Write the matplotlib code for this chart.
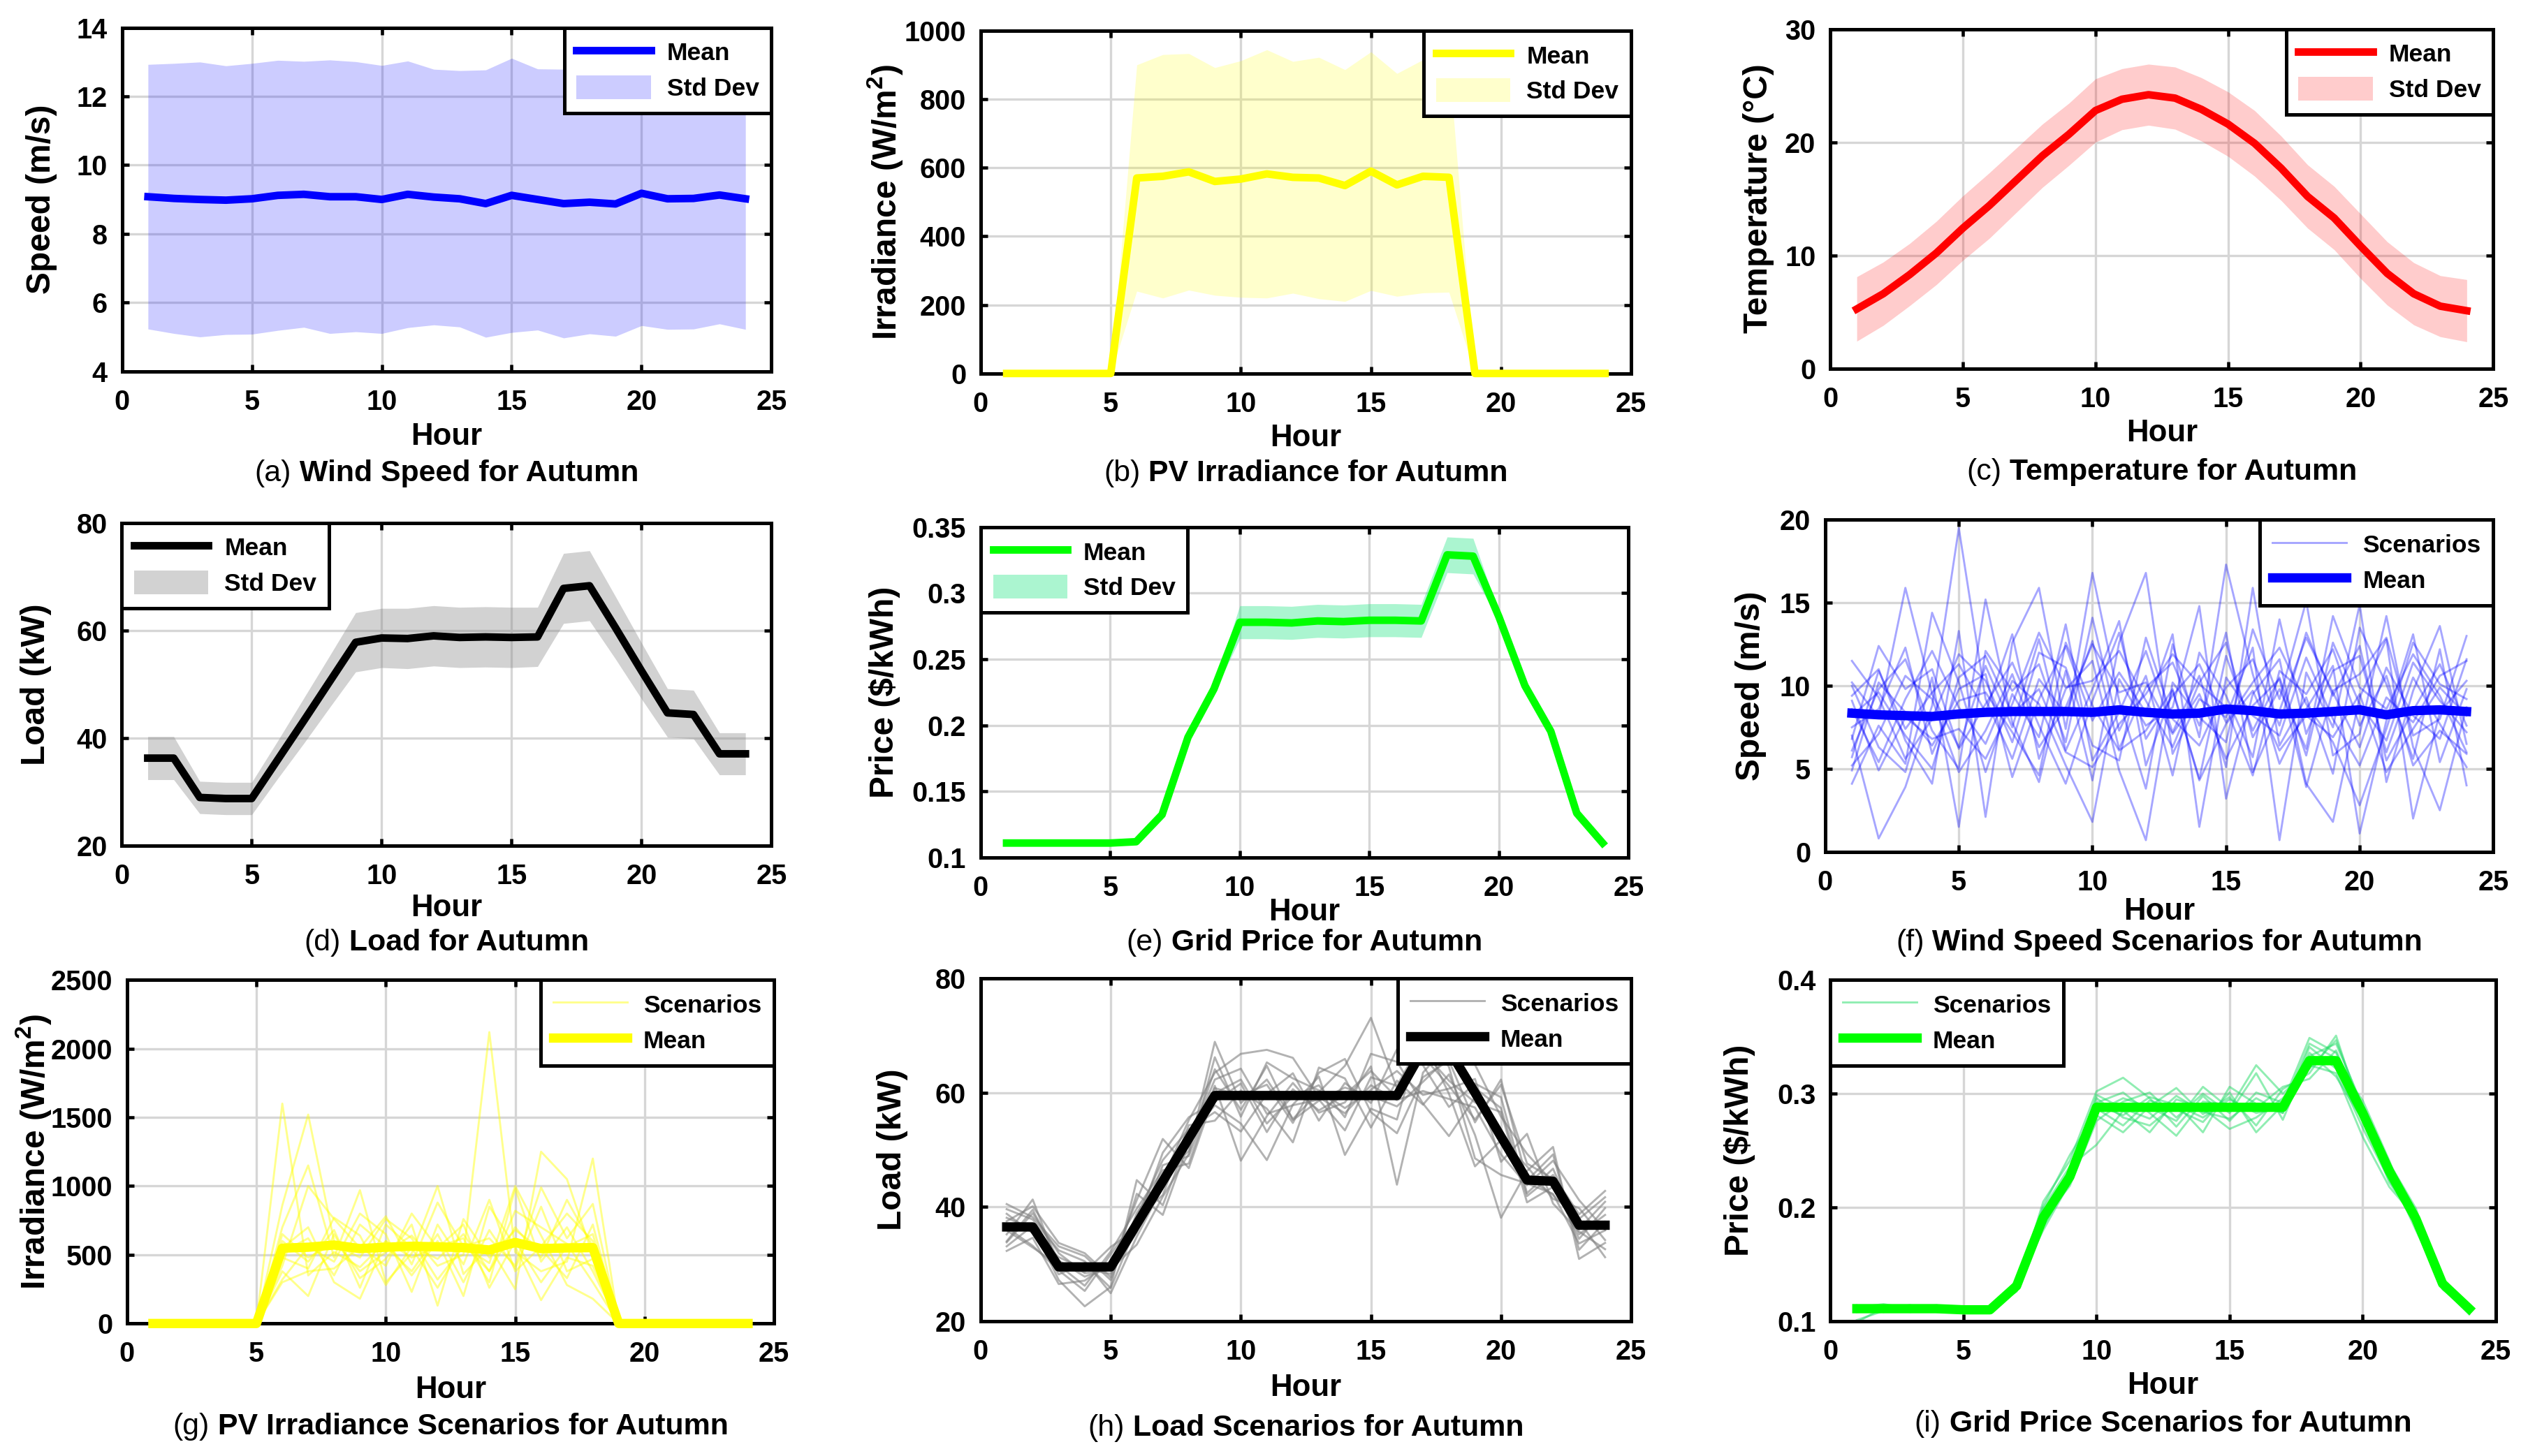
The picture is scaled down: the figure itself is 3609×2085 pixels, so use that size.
import matplotlib
matplotlib.use('Agg')
import matplotlib.pyplot as plt
from matplotlib.ticker import FuncFormatter

hours = list(range(1, 25))

# (a) wind speed statistics
wind_mean = [9.08, 9.03, 9.00, 8.98, 9.02, 9.12, 9.15, 9.08, 9.08, 9.00, 9.15, 9.07,
             9.02, 8.88, 9.12, 9.00, 8.88, 8.92, 8.87, 9.18, 9.02, 9.03, 9.13, 9.02]
wind_std = [3.85, 3.93, 4.00, 3.91, 3.94, 3.93, 3.87, 3.98, 3.93, 3.90, 3.88, 3.72,
            3.73, 3.89, 3.99, 3.80, 3.91, 3.83, 3.85, 3.85, 3.80, 3.80, 3.75, 3.80]

# (b) PV irradiance statistics
pv_mean = [0, 0, 0, 0, 0, 570, 575, 588, 560, 567, 582, 572,
           570, 548, 590, 550, 575, 572, 0, 0, 0, 0, 0, 0]
pv_std = [0, 0, 0, 0, 0, 330, 355, 345, 332, 345, 362, 338,
          352, 338, 348, 325, 340, 335, 0, 0, 0, 0, 0, 0]

# (c) temperature statistics
temp_mean = [5.25, 6.6, 8.3, 10.2, 12.4, 14.4, 16.6, 18.8, 20.7, 22.8, 23.8, 24.2,
             23.9, 22.9, 21.6, 19.9, 17.7, 15.2, 13.3, 10.8, 8.4, 6.6, 5.5, 5.1]
temp_std = [2.85, 2.8, 2.75, 2.8, 2.85, 2.9, 2.85, 2.8, 2.75, 2.8, 2.7, 2.7,
            2.75, 2.8, 2.85, 2.9, 2.85, 2.8, 2.8, 2.85, 2.8, 2.75, 2.7, 2.75]

# (d) load statistics
load_mean = [36.3, 36.3, 29.0, 28.8, 28.8, 36.0, 43.2, 50.5, 57.8, 58.6, 58.5, 59.0,
             58.7, 58.8, 58.7, 58.8, 67.8, 68.3, 60.5, 52.5, 44.7, 44.4, 37.1, 37.1]
load_std = [4.0, 4.0, 3.0, 3.0, 3.0, 3.5, 4.2, 4.8, 5.5, 5.5, 5.6, 5.6,
            5.6, 5.6, 5.6, 5.5, 6.5, 6.5, 5.8, 5.2, 4.5, 4.5, 3.9, 3.9]

# (e) grid price statistics
price_mean = [0.111, 0.111, 0.111, 0.111, 0.111, 0.112, 0.1325, 0.191, 0.2275, 0.278, 0.278, 0.2775,
              0.279, 0.2785, 0.2795, 0.2795, 0.279, 0.329, 0.328, 0.282, 0.230, 0.1955, 0.1336, 0.111]
price_std = [0.002, 0.002, 0.002, 0.002, 0.002, 0.002, 0.003, 0.003, 0.003, 0.0125, 0.0125, 0.0125,
             0.0125, 0.0125, 0.0125, 0.0125, 0.0125, 0.0135, 0.0135, 0.003, 0.003, 0.003, 0.002, 0.002]

# (f) wind speed scenarios
wind_scen = [
    [10.2, 8.1, 15.9, 9.5, 6.3, 11.2, 7.5, 12.8, 6.1, 9.8, 13.9, 5.2, 9.7, 4.4, 11.8, 7.3, 10.5, 5.8, 12.6, 8.9, 6.7, 11.4, 9.1, 7.2],
    [4.1, 7.6, 5.3, 14.4, 10.2, 4.8, 9.5, 6.9, 13.7, 5.5, 8.4, 12.1, 7.2, 10.6, 5.1, 15.9, 6.4, 9.3, 4.7, 13.5, 10.1, 5.6, 12.2, 4.0],
    [7.0, 0.8, 3.9, 8.8, 19.5, 9.2, 5.6, 10.4, 8.3, 12.7, 6.2, 9.9, 11.4, 7.6, 13.2, 4.8, 8.5, 12.9, 9.6, 6.3, 11.1, 8.2, 6.8, 11.6],
    [9.4, 11.0, 6.7, 4.1, 13.3, 2.1, 12.6, 15.9, 7.4, 16.8, 9.1, 3.8, 12.5, 6.9, 17.3, 10.7, 5.3, 8.6, 11.2, 1.1, 7.9, 13.1, 5.4, 9.8],
    [6.1, 9.8, 11.6, 7.3, 5.0, 15.2, 7.8, 4.2, 10.9, 4.3, 12.6, 16.8, 5.9, 9.2, 8.1, 12.3, 0.7, 10.8, 7.5, 14.9, 4.2, 9.7, 13.6, 6.5],
    [8.6, 5.4, 9.2, 12.1, 8.7, 6.5, 10.3, 8.9, 5.2, 1.8, 10.4, 7.6, 8.7, 14.8, 3.2, 9.5, 11.6, 4.1, 1.8, 9.3, 12.8, 2.0, 8.4, 10.3],
    [5.7, 10.9, 7.4, 9.6, 11.3, 8.4, 13.1, 5.6, 9.8, 11.5, 4.9, 0.7, 10.2, 8.1, 6.6, 13.4, 9.2, 15.1, 5.8, 7.1, 14.2, 6.3, 2.5, 8.7],
    [10.0, 6.3, 4.8, 10.5, 1.5, 12.1, 9.7, 11.3, 6.6, 14.1, 7.3, 10.6, 4.6, 12.0, 9.4, 5.7, 14.0, 7.1, 10.9, 11.8, 6.0, 10.5, 7.7, 5.1],
    [7.5, 8.6, 12.3, 5.9, 9.8, 10.7, 4.5, 9.2, 12.4, 7.9, 10.8, 8.4, 13.1, 1.5, 10.5, 8.2, 7.0, 11.7, 8.0, 5.2, 9.3, 7.8, 10.6, 11.5],
    [9.1, 4.9, 8.1, 6.8, 7.4, 5.6, 8.9, 13.2, 9.9, 10.3, 12.1, 9.1, 6.3, 10.2, 12.6, 6.9, 9.8, 6.2, 14.2, 9.9, 8.6, 11.9, 9.4, 6.0],
    [6.8, 12.4, 9.8, 11.0, 6.2, 8.9, 11.4, 7.6, 4.1, 9.1, 13.2, 6.8, 9.4, 11.3, 7.8, 10.2, 12.3, 8.9, 6.6, 2.8, 7.4, 12.6, 10.1, 9.2],
    [11.5, 9.3, 5.6, 8.0, 11.9, 10.3, 6.6, 12.0, 11.1, 6.4, 5.5, 12.9, 8.0, 6.4, 9.9, 11.6, 7.6, 13.2, 9.4, 12.4, 5.5, 8.5, 11.3, 7.6],
    [5.2, 7.1, 10.6, 9.2, 4.8, 7.3, 10.7, 6.3, 8.7, 12.5, 9.6, 10.2, 7.1, 9.5, 5.6, 8.8, 10.4, 3.9, 9.7, 10.7, 12.9, 7.0, 8.0, 13.0],
    [8.2, 9.6, 7.0, 5.0, 10.5, 11.8, 8.3, 9.8, 6.0, 5.1, 7.7, 9.5, 11.9, 10.1, 8.7, 4.6, 10.9, 9.5, 12.2, 7.6, 10.6, 5.2, 7.3, 5.9],
    [4.9, 10.2, 8.4, 6.4, 9.1, 9.6, 7.2, 4.6, 12.6, 8.8, 6.1, 7.3, 9.8, 4.3, 7.7, 9.7, 6.1, 8.2, 6.9, 9.5, 4.8, 7.4, 9.9, 8.2],
]
wind_scen_mean = [8.35, 8.25, 8.2, 8.15, 8.3, 8.4, 8.45, 8.45, 8.45, 8.4, 8.55, 8.4,
                  8.3, 8.35, 8.6, 8.5, 8.3, 8.35, 8.45, 8.55, 8.25, 8.5, 8.55, 8.45]

# (g) PV irradiance scenarios
pv_scen = [
    [0, 0, 0, 0, 0, 1600, 350, 520, 410, 600, 480, 560, 620, 300, 980, 450, 700, 380, 0, 0, 0, 0, 0, 0],
    [0, 0, 0, 0, 0, 860, 1520, 600, 380, 520, 640, 420, 500, 2120, 520, 380, 450, 1200, 0, 0, 0, 0, 0, 0],
    [0, 0, 0, 0, 0, 700, 1150, 480, 970, 300, 510, 1000, 360, 560, 250, 1250, 1050, 500, 0, 0, 0, 0, 0, 0],
    [0, 0, 0, 0, 0, 420, 1000, 760, 550, 780, 430, 880, 560, 620, 420, 990, 620, 870, 0, 0, 0, 0, 0, 0],
    [0, 0, 0, 0, 0, 380, 200, 650, 330, 470, 720, 130, 760, 480, 680, 540, 330, 720, 0, 0, 0, 0, 0, 0],
    [0, 0, 0, 0, 0, 550, 700, 300, 180, 600, 350, 600, 200, 850, 560, 170, 480, 420, 0, 0, 0, 0, 0, 0],
    [0, 0, 0, 0, 0, 480, 400, 770, 640, 280, 560, 470, 650, 380, 820, 700, 580, 300, 0, 0, 0, 0, 0, 0],
    [0, 0, 0, 0, 0, 320, 560, 450, 800, 650, 230, 720, 430, 900, 380, 560, 800, 600, 0, 0, 0, 0, 0, 0],
    [0, 0, 0, 0, 0, 650, 480, 580, 480, 760, 620, 320, 560, 440, 1000, 640, 280, 180, 0, 0, 0, 0, 0, 0],
    [0, 0, 0, 0, 0, 300, 380, 400, 560, 420, 800, 550, 720, 260, 600, 300, 560, 650, 0, 0, 0, 0, 0, 0],
    [0, 0, 0, 0, 0, 520, 620, 350, 720, 560, 380, 650, 300, 680, 400, 850, 380, 470, 0, 0, 0, 0, 0, 0],
    [0, 0, 0, 0, 0, 600, 450, 680, 260, 720, 550, 260, 580, 380, 700, 480, 900, 560, 0, 0, 0, 0, 0, 0],
]
pv_scen_mean = [0, 0, 0, 0, 0, 548, 555, 571, 545, 555, 562, 558,
                552, 535, 590, 545, 550, 552, 0, 0, 0, 0, 0, 0]

# (h) load scenarios
load_scen = [
    [40.5, 38.2, 33.1, 31.4, 27.2, 38.9, 45.6, 49.8, 68.9, 58.2, 62.3, 55.4, 60.1, 64.7, 73.1, 60.8, 66.4, 61.2, 55.3, 61.4, 47.6, 44.9, 35.2, 38.6],
    [35.2, 41.3, 29.4, 28.6, 33.0, 36.2, 44.8, 55.2, 63.5, 66.8, 67.5, 66.1, 59.2, 56.4, 61.3, 58.7, 60.3, 58.9, 57.4, 49.2, 43.8, 48.1, 41.2, 36.0],
    [33.1, 36.7, 27.2, 22.6, 26.0, 44.7, 40.3, 52.1, 57.8, 54.6, 48.2, 57.9, 62.8, 49.1, 57.2, 55.3, 71.2, 64.5, 48.5, 45.6, 44.1, 42.3, 33.6, 35.9],
    [38.8, 35.4, 31.2, 29.1, 28.3, 35.6, 47.3, 48.9, 61.2, 48.1, 55.9, 61.7, 56.5, 58.3, 64.6, 43.9, 63.5, 68.7, 60.8, 57.3, 41.9, 45.6, 38.7, 42.8],
    [36.4, 33.2, 28.9, 25.3, 31.7, 37.9, 42.1, 54.3, 55.1, 60.4, 57.2, 51.3, 64.4, 62.5, 53.9, 62.1, 57.9, 63.2, 52.6, 38.1, 46.3, 50.5, 30.9, 33.7],
    [34.0, 39.5, 30.6, 27.8, 29.6, 41.2, 51.9, 46.8, 59.9, 62.3, 54.6, 59.4, 61.3, 55.7, 66.8, 65.4, 58.1, 52.4, 59.2, 53.5, 45.2, 42.1, 37.5, 31.2],
    [39.6, 37.8, 32.4, 30.5, 24.9, 34.8, 43.6, 50.7, 64.1, 57.0, 64.7, 55.2, 58.6, 60.9, 59.4, 57.6, 61.9, 66.3, 64.9, 55.8, 49.3, 44.3, 34.4, 39.8],
    [32.3, 34.6, 26.5, 27.1, 30.4, 38.3, 48.2, 53.6, 56.6, 53.2, 59.8, 63.4, 55.1, 61.7, 58.2, 67.6, 64.8, 57.5, 61.6, 59.2, 42.4, 46.7, 36.1, 40.9],
    [37.5, 40.1, 33.7, 31.9, 27.7, 42.3, 38.6, 51.3, 62.3, 64.2, 56.3, 57.8, 58.8, 53.4, 62.7, 61.2, 69.4, 59.8, 47.1, 51.7, 47.1, 41.4, 39.8, 34.2],
    [35.9, 32.9, 29.8, 26.2, 32.2, 39.7, 46.4, 47.6, 60.8, 59.5, 61.4, 54.7, 63.5, 65.9, 56.6, 52.9, 62.7, 65.6, 54.8, 62.3, 44.6, 49.2, 32.5, 37.4],
    [38.1, 36.1, 28.2, 30.2, 25.8, 36.8, 49.5, 55.7, 58.4, 61.6, 53.1, 60.6, 56.9, 59.6, 63.8, 59.1, 67.2, 62.1, 58.3, 56.6, 40.8, 43.5, 37.9, 41.7],
    [33.8, 38.9, 31.9, 28.4, 29.1, 33.4, 41.8, 49.3, 66.2, 55.8, 65.3, 62.5, 60.4, 57.3, 60.5, 63.8, 59.6, 60.7, 62.4, 47.9, 52.8, 40.6, 35.7, 32.6],
]
load_scen_mean = [36.5, 36.5, 29.5, 29.5, 29.5, 37.0, 44.5, 52.0, 59.5, 59.5, 59.5, 59.5,
                  59.5, 59.5, 59.5, 59.5, 67.5, 67.5, 60.0, 52.3, 44.7, 44.5, 36.8, 36.8]

# (i) grid price scenarios
price_scen = [
    [0.113, 0.112, 0.114, 0.111, 0.109, 0.111, 0.128, 0.205, 0.241, 0.302, 0.314, 0.296, 0.271, 0.298, 0.276, 0.301, 0.292, 0.349, 0.336, 0.286, 0.228, 0.188, 0.135, 0.109],
    [0.108, 0.110, 0.109, 0.113, 0.111, 0.109, 0.134, 0.183, 0.224, 0.281, 0.266, 0.289, 0.305, 0.282, 0.297, 0.272, 0.304, 0.318, 0.351, 0.279, 0.236, 0.195, 0.131, 0.108],
    [0.112, 0.115, 0.111, 0.109, 0.110, 0.112, 0.130, 0.196, 0.231, 0.296, 0.279, 0.272, 0.291, 0.266, 0.306, 0.291, 0.283, 0.341, 0.322, 0.270, 0.224, 0.186, 0.137, 0.112],
    [0.101, 0.109, 0.112, 0.114, 0.108, 0.110, 0.136, 0.189, 0.219, 0.276, 0.293, 0.301, 0.279, 0.300, 0.283, 0.318, 0.277, 0.333, 0.344, 0.289, 0.239, 0.199, 0.128, 0.110],
    [0.110, 0.113, 0.108, 0.112, 0.112, 0.111, 0.127, 0.199, 0.236, 0.255, 0.285, 0.266, 0.295, 0.287, 0.269, 0.279, 0.296, 0.325, 0.318, 0.262, 0.218, 0.191, 0.134, 0.113],
    [0.114, 0.108, 0.113, 0.110, 0.109, 0.108, 0.133, 0.186, 0.228, 0.292, 0.301, 0.283, 0.263, 0.293, 0.290, 0.287, 0.306, 0.313, 0.338, 0.283, 0.231, 0.180, 0.132, 0.107],
    [0.111, 0.111, 0.110, 0.113, 0.111, 0.112, 0.129, 0.193, 0.233, 0.287, 0.272, 0.294, 0.286, 0.275, 0.301, 0.266, 0.290, 0.330, 0.327, 0.294, 0.241, 0.184, 0.136, 0.111],
    [0.099, 0.112, 0.114, 0.108, 0.110, 0.110, 0.132, 0.180, 0.222, 0.299, 0.287, 0.278, 0.298, 0.284, 0.278, 0.296, 0.283, 0.336, 0.315, 0.277, 0.227, 0.193, 0.130, 0.106],
    [0.109, 0.114, 0.112, 0.111, 0.108, 0.109, 0.135, 0.201, 0.246, 0.284, 0.296, 0.288, 0.276, 0.306, 0.287, 0.325, 0.300, 0.322, 0.347, 0.286, 0.233, 0.196, 0.138, 0.110],
    [0.112, 0.109, 0.111, 0.110, 0.112, 0.111, 0.126, 0.191, 0.229, 0.290, 0.281, 0.297, 0.290, 0.279, 0.295, 0.283, 0.288, 0.344, 0.331, 0.280, 0.222, 0.189, 0.133, 0.109],
]
price_scen_mean = [0.111, 0.111, 0.111, 0.111, 0.110, 0.110, 0.131, 0.191, 0.227, 0.288, 0.288, 0.288,
                   0.288, 0.288, 0.288, 0.288, 0.288, 0.329, 0.329, 0.283, 0.232, 0.190, 0.133, 0.111]

plt.rcParams['font.family'] = ['Liberation Sans', 'DejaVu Sans']
plt.rcParams['mathtext.fontset'] = 'custom'
plt.rcParams['mathtext.bf'] = 'Liberation Sans:bold'
plt.rcParams['mathtext.rm'] = 'Liberation Sans:bold'
plt.rcParams['mathtext.default'] = 'bf'

fig = plt.figure(figsize=(12.03, 6.95), dpi=300)
renderer = fig.canvas.get_renderer()

fmt = FuncFormatter(lambda v, p: '%g' % round(v, 4))


def caption(cx, y, tag, rest):
    # "(a)" in regular weight, the title in bold, centred as one line
    t1 = fig.text(0, y, tag, fontsize=10.3, fontweight='normal', va='center')
    t2 = fig.text(0, y, ' ' + rest, fontsize=10.3, fontweight='bold', va='center')
    w1 = t1.get_window_extent(renderer).width / fig.bbox.width
    w2 = t2.get_window_extent(renderer).width / fig.bbox.width
    x0 = cx - (w1 + w2) / 2
    t1.set_x(x0)
    t2.set_x(x0 + w1)


def style_axes(ax, ylabel, ylim, ystep, lab_x, hour_y, tag, title, cap_y):
    ax.set_xlim(0, 25)
    ax.set_ylim(*ylim)
    ax.set_xticks(range(0, 26, 5))
    n = int(round((ylim[1] - ylim[0]) / ystep))
    ax.set_yticks([ylim[0] + k * ystep for k in range(n + 1)])
    ax.yaxis.set_major_formatter(fmt)
    ax.grid(True, color='#d6d6d6', linewidth=0.8)
    ax.set_axisbelow(True)
    ax.tick_params(direction='in', length=2.5, width=1.1, top=True, right=True,
                   labelsize=9.5)
    ax.tick_params(axis='x', pad=6)
    ax.tick_params(axis='y', pad=5)
    for lab in ax.get_xticklabels() + ax.get_yticklabels():
        lab.set_fontweight('bold')
    for sp in ax.spines.values():
        sp.set_linewidth(1.2)
    pos = ax.get_position()
    ax.set_xlabel('Hour', fontsize=10.5, fontweight='bold', va='center')
    ax.xaxis.set_label_coords(0.5, (hour_y - pos.y0) / pos.height, transform=ax.transAxes)
    ax.set_ylabel(ylabel, fontsize=11.5, fontweight='bold', va='center')
    ax.yaxis.set_label_coords((lab_x - pos.x0) / pos.width, 0.5, transform=ax.transAxes)
    caption((pos.x0 + pos.x1) / 2, cap_y, tag, title)


def legend(ax, handles, labels, loc):
    leg = ax.legend(handles, labels, loc=loc, borderaxespad=0, fancybox=False,
                    framealpha=1, edgecolor='black', fontsize=8.5,
                    handlelength=3.0, handleheight=1.1, labelspacing=0.42,
                    borderpad=0.5, handletextpad=0.65)
    leg.get_frame().set_linewidth(1.2)
    leg.set_zorder(5)
    for t in leg.get_texts():
        t.set_fontweight('bold')


def stat_panel(rect, mean, std, color, fill, alpha, ylabel, ylim, ystep, lab_x, hour_y,
               tag, title, cap_y, loc):
    ax = fig.add_axes(rect)
    lower = [m - s for m, s in zip(mean, std)]
    upper = [m + s for m, s in zip(mean, std)]
    band = ax.fill_between(hours, lower, upper, color=fill, alpha=alpha, linewidth=0)
    line, = ax.plot(hours, mean, color=color, linewidth=2.6, clip_on=False, zorder=3)
    legend(ax, [line, band], ['Mean', 'Std Dev'], loc)
    style_axes(ax, ylabel, ylim, ystep, lab_x, hour_y, tag, title, cap_y)
    return ax


def scen_panel(rect, scen, mean, color, scolor, salpha, ylabel, ylim, ystep, lab_x, hour_y,
               tag, title, cap_y, loc):
    ax = fig.add_axes(rect)
    first = None
    for s in scen:
        ln, = ax.plot(hours, s, color=scolor, alpha=salpha, linewidth=0.7)
        if first is None:
            first = ln
    line, = ax.plot(hours, mean, color=color, linewidth=3.2, clip_on=False, zorder=3)
    legend(ax, [first, line], ['Scenarios', 'Mean'], loc)
    style_axes(ax, ylabel, ylim, ystep, lab_x, hour_y, tag, title, cap_y)
    return ax


stat_panel([0.0484, 0.745, 0.2576, 0.236], wind_mean, wind_std, 'blue', 'blue', 0.2,
           'Speed (m/s)', (4, 14), 2, 0.0164, 0.700,
           '(a)', 'Wind Speed for Autumn', 0.6746, 'upper right')
stat_panel([0.389, 0.7435, 0.258, 0.2355], pv_mean, pv_std, 'yellow', 'yellow', 0.2,
           r'Irradiance (W/m$^2$)', (0, 1000), 200, 0.351, 0.699,
           '(b)', 'PV Irradiance for Autumn', 0.6746, 'upper right')
stat_panel([0.726, 0.747, 0.263, 0.233], temp_mean, temp_std, 'red', 'red', 0.2,
           'Temperature (°C)', (0, 30), 10, 0.6975, 0.7024,
           '(c)', 'Temperature for Autumn', 0.6757, 'upper right')
stat_panel([0.0483, 0.419, 0.2577, 0.222], load_mean, load_std, 'black', 'gray', 0.35,
           'Load (kW)', (20, 80), 20, 0.0144, 0.3762,
           '(d)', 'Load for Autumn', 0.3523, 'upper left')
stat_panel([0.389, 0.411, 0.257, 0.227], price_mean, price_std, '#00ff00', '#2ee88a', 0.4,
           'Price ($/kWh)', (0.1, 0.35), 0.05, 0.351, 0.3735,
           '(e)', 'Grid Price for Autumn', 0.3525, 'upper left')
scen_panel([0.724, 0.415, 0.265, 0.228], wind_scen, wind_scen_mean, 'blue', 'blue', 0.35,
           'Speed (m/s)', (0, 20), 5, 0.6944, 0.374,
           '(f)', 'Wind Speed Scenarios for Autumn', 0.3527, 'upper right')
scen_panel([0.0504, 0.091, 0.2566, 0.236], pv_scen, pv_scen_mean, 'yellow', 'yellow', 0.45,
           r'Irradiance (W/m$^2$)', (0, 2500), 500, 0.0133, 0.0451,
           '(g)', 'PV Irradiance Scenarios for Autumn', 0.0201, 'upper right')
scen_panel([0.389, 0.0926, 0.258, 0.2354], load_scen, load_scen_mean, 'black', 'gray', 0.6,
           'Load (kW)', (20, 80), 20, 0.354, 0.047,
           '(h)', 'Load Scenarios for Autumn', 0.019, 'upper right')
scen_panel([0.726, 0.0926, 0.264, 0.2344], price_scen, price_scen_mean, '#00ff00', '#22dd66', 0.5,
           'Price ($/kWh)', (0.1, 0.4), 0.1, 0.690, 0.048,
           '(i)', 'Grid Price Scenarios for Autumn', 0.022, 'upper left')

fig.savefig('out.png', dpi=300)
